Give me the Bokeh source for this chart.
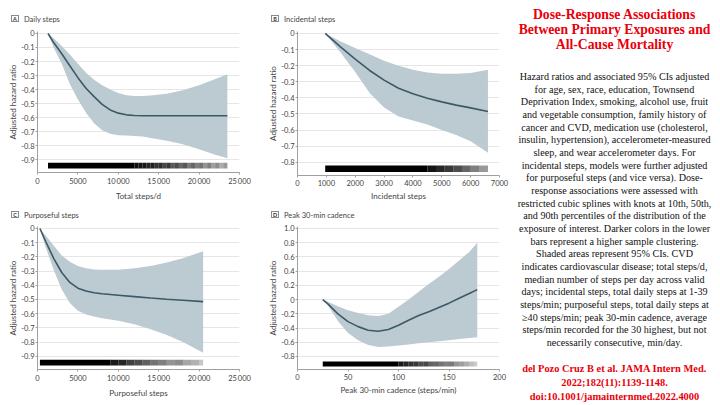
from bokeh.plotting import figure
from bokeh.models import Range1d, FixedTicker, Label, CustomJSTickFormatter, Div
from bokeh.layouts import row, column
from bokeh.embed import file_html
from bokeh.resources import INLINE

# ---------------- data ----------------
# Panel A: Daily steps
a_x   = [1300, 2000, 3000, 4000, 5000, 6000, 7000, 8000, 9000, 10000, 11000, 12000, 13000, 14000, 16000, 18000, 20000, 22000, 23500]
a_mid = [0, -0.065, -0.145, -0.23, -0.315, -0.39, -0.45, -0.505, -0.545, -0.568, -0.58, -0.585, -0.586, -0.586, -0.586, -0.586, -0.586, -0.586, -0.586]
a_hi  = [0, -0.035, -0.09, -0.15, -0.215, -0.28, -0.33, -0.37, -0.40, -0.425, -0.44, -0.445, -0.445, -0.442, -0.43, -0.405, -0.37, -0.325, -0.29]
a_lo  = [0, -0.10, -0.215, -0.36, -0.47, -0.565, -0.64, -0.69, -0.715, -0.725, -0.728, -0.73, -0.735, -0.745, -0.765, -0.79, -0.825, -0.865, -0.89]
a_rug_left  = [1300, 12000, 12500, 13000, 13500, 14000, 14500, 15000, 15500, 16000, 16500, 17000, 17500, 18000, 18500, 19000, 19500, 20000, 20500, 21000, 21500, 22000, 22500, 23000]
a_rug_right = [12000, 12500, 13000, 13500, 14000, 14500, 15000, 15500, 16000, 16500, 17000, 17500, 18000, 18500, 19000, 19500, 20000, 20500, 21000, 21500, 22000, 22500, 23000, 23500]
a_rug_alpha = [1, 0.95, 0.92, 0.9, 0.85, 0.88, 0.8, 0.82, 0.72, 0.78, 0.65, 0.7, 0.6, 0.66, 0.52, 0.6, 0.5, 0.55, 0.42, 0.5, 0.38, 0.45, 0.32, 0.4]

# Panel B: Incidental steps
b_x   = [960, 1500, 2000, 2500, 3000, 3500, 4000, 4500, 5000, 5500, 6000, 6600]
b_mid = [0, -0.085, -0.16, -0.23, -0.29, -0.34, -0.375, -0.403, -0.425, -0.445, -0.462, -0.485]
b_hi  = [0, -0.05, -0.09, -0.13, -0.17, -0.20, -0.225, -0.242, -0.25, -0.25, -0.245, -0.225]
b_lo  = [0, -0.12, -0.24, -0.37, -0.46, -0.515, -0.54, -0.565, -0.60, -0.63, -0.67, -0.74]
b_rug_left  = [960, 4500, 4800, 5100, 5400, 5700, 6000, 6300]
b_rug_right = [4500, 4800, 5100, 5400, 5700, 6000, 6300, 6600]
b_rug_alpha = [1, 0.92, 0.85, 0.78, 0.7, 0.6, 0.5, 0.4]

# Panel C: Purposeful steps
c_x   = [300, 1000, 2000, 3000, 4000, 5000, 6000, 7000, 8000, 10000, 12000, 14000, 16000, 18000, 20500]
c_mid = [0, -0.09, -0.21, -0.31, -0.38, -0.42, -0.44, -0.452, -0.46, -0.47, -0.48, -0.49, -0.498, -0.505, -0.515]
c_hi  = [0, -0.05, -0.12, -0.19, -0.235, -0.265, -0.28, -0.288, -0.29, -0.29, -0.28, -0.265, -0.24, -0.21, -0.16]
c_lo  = [0, -0.13, -0.29, -0.43, -0.525, -0.58, -0.605, -0.62, -0.632, -0.65, -0.675, -0.71, -0.75, -0.80, -0.875]
c_rug_left  = [300, 9000, 10000, 11000, 12000, 13000, 14000, 15000, 16000, 17000, 18000, 19000, 20000]
c_rug_right = [9000, 10000, 11000, 12000, 13000, 14000, 15000, 16000, 17000, 18000, 19000, 20000, 20500]
c_rug_alpha = [1, 0.9, 0.85, 0.75, 0.7, 0.62, 0.55, 0.5, 0.42, 0.45, 0.35, 0.3, 0.22]

# Panel D: Peak 30-min cadence
d_x   = [25, 30, 40, 50, 60, 70, 80, 90, 100, 110, 120, 130, 140, 150, 160, 170, 178]
d_mid = [0, -0.06, -0.2, -0.31, -0.38, -0.43, -0.445, -0.42, -0.36, -0.29, -0.225, -0.17, -0.11, -0.05, 0.02, 0.085, 0.14]
d_hi  = [0, -0.03, -0.095, -0.15, -0.19, -0.22, -0.23, -0.2, -0.1, 0.0, 0.11, 0.22, 0.32, 0.43, 0.55, 0.67, 0.8]
d_lo  = [0, -0.08, -0.3, -0.47, -0.57, -0.64, -0.665, -0.66, -0.645, -0.63, -0.615, -0.6, -0.585, -0.57, -0.555, -0.54, -0.53]
d_rug_left  = [25, 100, 105, 110, 115, 120, 125, 130, 135, 140, 145, 150, 155, 160, 165, 170, 175]
d_rug_right = [100, 105, 110, 115, 120, 125, 130, 135, 140, 145, 150, 155, 160, 165, 170, 175, 178]
d_rug_alpha = [1, 0.9, 0.85, 0.8, 0.78, 0.7, 0.72, 0.62, 0.6, 0.55, 0.5, 0.52, 0.42, 0.38, 0.32, 0.25, 0.2]

steps_ticks = [0, 5000, 10000, 15000, 20000, 25000]
steps_labels = ["0", "5000", "10\u2009000", "15\u2009000", "20\u2009000", "25\u2009000"]
inc_ticks = [0, 1000, 2000, 3000, 4000, 5000, 6000, 7000]
inc_labels = ["0", "1000", "2000", "3000", "4000", "5000", "6000", "7000"]
cad_ticks = [0, 50, 100, 150, 200]
cad_labels = ["0", "50", "100", "150", "200"]
y9_ticks = [0, -0.1, -0.2, -0.3, -0.4, -0.5, -0.6, -0.7, -0.8, -0.9]
y9_labels = ["0", "-0.1", "-0.2", "-0.3", "-0.4", "-0.5", "-0.6", "-0.7", "-0.8", "-0.9"]
y8_ticks = [0, -0.1, -0.2, -0.3, -0.4, -0.5, -0.6, -0.7, -0.8]
y8_labels = ["0", "-0.1", "-0.2", "-0.3", "-0.4", "-0.5", "-0.6", "-0.7", "-0.8"]
yd_ticks = [1, 0.8, 0.6, 0.4, 0.2, 0, -0.2, -0.4, -0.6, -0.8]
yd_labels = ["1.0", "0.8", "0.6", "0.4", "0.2", "0", "-0.2", "-0.4", "-0.6", "-0.8"]

panel_letters = ["A", "B", "C", "D"]
panel_titles = ["Daily steps", "Incidental steps", "Purposeful steps", "Peak 30-min cadence"]
x_titles = ["Total steps/d", "Incidental steps", "Purposeful steps", "Peak 30-min cadence (steps/min)"]
y_title = "Adjusted hazard ratio"

heading_lines = ["Dose-Response Associations", "Between Primary Exposures and", "All-Cause Mortality"]
body_lines = [
    "Hazard ratios and associated 95% CIs adjusted",
    "for age, sex, race, education, Townsend",
    "Deprivation Index, smoking, alcohol use, fruit",
    "and vegetable consumption, family history of",
    "cancer and CVD, medication use (cholesterol,",
    "insulin, hypertension), accelerometer-measured",
    "sleep, and wear accelerometer days. For",
    "incidental steps, models were further adjusted",
    "for purposeful steps (and vice versa). Dose-",
    "response associations were assessed with",
    "restricted cubic splines with knots at 10th, 50th,",
    "and 90th percentiles of the distribution of the",
    "exposure of interest. Darker colors in the lower",
    "bars represent a higher sample clustering.",
    "Shaded areas represent 95% CIs. CVD",
    "indicates cardiovascular disease; total steps/d,",
    "median number of steps per day across valid",
    "days; incidental steps, total daily steps at 1-39",
    "steps/min; purposeful steps, total daily steps at",
    "\u226540 steps/min; peak 30-min cadence, average",
    "steps/min recorded for the 30 highest, but not",
    "necessarily consecutive, min/day.",
]
cite_lines = ["del Pozo Cruz B et al. JAMA Intern Med.", "2022;182(11):1139-1148.", "doi:10.1001/jamainternmed.2022.4000"]

# ---------------- styling ----------------
BAND = "#bccbd2"
LINE = "#3d5966"
GRID = "#e6e6e6"
AXIS = "#a0a0a0"
TXT = "#444444"
FONT = "Lato"
RED = "#e8000b"


def fmt(ticks, labels):
    return CustomJSTickFormatter(args=dict(tv=ticks, tl=labels), code="""
        for (let i = 0; i < tv.length; i++) { if (Math.abs(tv[i] - tick) < 1e-9) return tl[i]; }
        return "";
    """)


def title_div(letter, title, width, height, left, top):
    html = (
        f'<div style="position:relative;width:{width}px;height:{height}px;font-family:Lato;color:{TXT};">'
        f'<span style="position:absolute;left:{left}px;top:{top}px;width:8px;height:7px;'
        f'border:1px solid #8a8a8a;font-size:5.5px;font-weight:bold;line-height:7px;'
        f'text-align:center;color:#333;">{letter}</span>'
        f'<span style="position:absolute;left:{left + 13}px;top:{top - 0.5}px;font-size:7.5px;'
        f'line-height:9px;white-space:nowrap;">{title}</span></div>'
    )
    return Div(text=html, width=width, height=height, margin=0, styles={"overflow": "visible"})


def panel(width, height, btop, bbot, bl, br, xr, yr, xt, xl, yt, yl, xtitle,
          x, mid, lo, hi, rl, rr, ra, rug_y):
    p = figure(width=width, height=height, output_backend="svg", toolbar_location=None,
               x_range=Range1d(*xr), y_range=Range1d(*yr),
               min_border_left=bl, min_border_right=br, min_border_top=btop, min_border_bottom=bbot)
    p.outline_line_color = None
    p.background_fill_color = "white"
    p.border_fill_color = "white"
    p.xgrid.visible = False
    p.ygrid.ticker = FixedTicker(ticks=yt)
    p.ygrid.grid_line_color = GRID
    p.ygrid.grid_line_width = 1

    p.varea(x=x, y1=lo, y2=hi, fill_color=BAND, fill_alpha=1)
    p.line(x, mid, line_color=LINE, line_width=1.6)
    p.quad(left=rl, right=rr, bottom=rug_y[0], top=rug_y[1], fill_color="black",
           fill_alpha=ra, line_color=None)

    for ax, ticks, labels in ((p.xaxis[0], xt, xl), (p.yaxis[0], yt, yl)):
        ax.ticker = FixedTicker(ticks=ticks)
        ax.formatter = fmt(ticks, labels)
        ax.minor_tick_line_color = None
        ax.major_tick_out = 2
        ax.major_tick_in = 0
        ax.major_tick_line_color = AXIS
        ax.axis_line_color = AXIS
        ax.major_label_text_font = FONT
        ax.major_label_text_font_size = "7.5px"
        ax.major_label_text_color = TXT
        ax.axis_label_text_font = FONT
        ax.axis_label_text_font_size = "8px"
        ax.axis_label_text_font_style = "normal"
        ax.axis_label_text_color = TXT
    p.xaxis.axis_label = xtitle
    p.xaxis.major_label_standoff = 2
    p.xaxis.axis_label_standoff = 2
    p.yaxis.axis_label = y_title
    p.yaxis.major_label_standoff = 1
    p.yaxis.axis_label_standoff = 0
    return p


# top row: div 0..23, figure 23..203 (frame 31..175)
# bottom row: div 203..223, figure 223..404 (frame 226..369)
dA = title_div(panel_letters[0], panel_titles[0], 253, 23, 11, 15)
dB = title_div(panel_letters[1], panel_titles[1], 256, 23, 18, 15)
dC = title_div(panel_letters[2], panel_titles[2], 253, 20, 11, 8)
dD = title_div(panel_letters[3], panel_titles[3], 256, 20, 18, 8)

pA = panel(253, 180, 8, 28, 37, 14, (0, 25000), (-0.991, 0.014), steps_ticks, steps_labels, y9_ticks, y9_labels,
           x_titles[0], a_x, a_mid, a_lo, a_hi, a_rug_left, a_rug_right, a_rug_alpha, (-0.963, -0.921))
pB = panel(256, 180, 8, 28, 44, 10, (0, 7000), (-0.882, 0.012), inc_ticks, inc_labels, y8_ticks, y8_labels,
           x_titles[1], b_x, b_mid, b_lo, b_hi, b_rug_left, b_rug_right, b_rug_alpha, (-0.861, -0.82))
pC = panel(253, 181, 3, 35, 37, 14, (0, 25000), (-0.993, 0.014), steps_ticks, steps_labels, y9_ticks, y9_labels,
           x_titles[2], c_x, c_mid, c_lo, c_hi, c_rug_left, c_rug_right, c_rug_alpha, (-0.965, -0.925))
pD = panel(256, 181, 3, 35, 44, 10, (0, 200), (-0.983, 1.028), cad_ticks, cad_labels, yd_ticks, yd_labels,
           x_titles[3], d_x, d_mid, d_lo, d_hi, d_rug_left, d_rug_right, d_rug_alpha, (-0.94, -0.87))

# ---------------- text column ----------------
TW, TH = 211, 404
pT = figure(width=TW, height=TH, output_backend="svg", toolbar_location=None,
            x_range=Range1d(0, TW), y_range=Range1d(TH, 0), min_border=0)
pT.axis.visible = False
pT.grid.visible = False
pT.outline_line_color = None
cx = 105
for i, t in enumerate(heading_lines):
    pT.add_layout(Label(x=cx, y=14 + 15 * i, text=t, text_font="Liberation Serif", text_font_size="13.7px",
                        text_font_style="bold", text_color=RED, text_align="center", text_baseline="middle"))
for i, t in enumerate(body_lines):
    pT.add_layout(Label(x=cx, y=76 + 12.67 * i, text=t, text_font="Liberation Serif", text_font_size="10.15px",
                        text_color="#111111", text_align="center", text_baseline="middle"))
for i, t in enumerate(cite_lines):
    pT.add_layout(Label(x=cx, y=368 + 14 * i, text=t, text_font="Liberation Serif", text_font_size="10.4px",
                        text_font_style="bold", text_color=RED, text_align="center", text_baseline="middle"))

layout = row(column(dA, pA, dC, pC), column(dB, pB, dD, pD), pT)
open("out.html", "w").write(file_html(layout, INLINE))
